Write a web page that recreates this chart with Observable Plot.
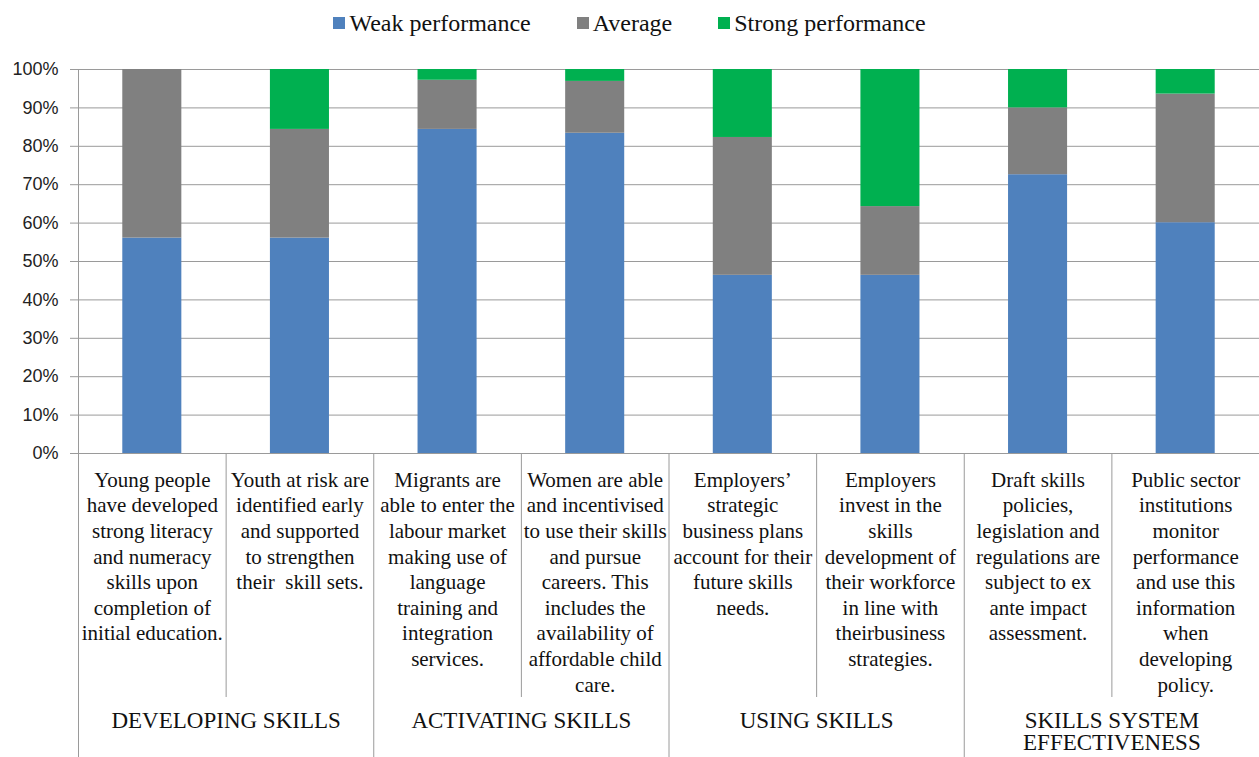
<!DOCTYPE html>
<html>
<head>
<meta charset="utf-8">
<script src="https://cdn.jsdelivr.net/npm/d3@7"></script>
<script src="https://cdn.jsdelivr.net/npm/@observablehq/plot@0.6"></script>
<style>
  html, body { margin: 0; padding: 0; background: #fff; }
  #legend { height: 46px; display: flex; justify-content: center; align-items: center; gap: 46px;
    font-family: "Liberation Serif", "DejaVu Serif", serif; font-size: 24px; color: #111; box-sizing: border-box; width: 1259px; }
  #legend .item { display: flex; align-items: center; }
  #legend .sw { width: 12px; height: 12px; margin-right: 4px; display: inline-block; }
  #chart svg { display: block; }
</style>
</head>
<body>
<div id="legend"></div>
<div id="chart"></div>
<script>
const categories = [
  "Young people\nhave developed\nstrong literacy\nand numeracy\nskills upon\ncompletion of\ninitial education.",
  "Youth at risk are\nidentified early\nand supported\nto strengthen\ntheir  skill sets.",
  "Migrants are\nable to enter the\nlabour market\nmaking use of\nlanguage\ntraining and\nintegration\nservices.",
  "Women are able\nand incentivised\nto use their skills\nand pursue\ncareers. This\nincludes the\navailability of\naffordable child\ncare.",
  "Employers’\nstrategic\nbusiness plans\naccount for their\nfuture skills\nneeds.",
  "Employers\ninvest in the\nskills\ndevelopment of\ntheir workforce\nin line with\ntheirbusiness\nstrategies.",
  "Draft skills\npolicies,\nlegislation and\nregulations are\nsubject to ex\nante impact\nassessment.",
  "Public sector\ninstitutions\nmonitor\nperformance\nand use this\ninformation\nwhen\ndeveloping\npolicy."
];
const groups = ["DEVELOPING SKILLS", "ACTIVATING SKILLS", "USING SKILLS", "SKILLS SYSTEM\nEFFECTIVENESS"];
const seriesNames = ["Weak performance", "Average", "Strong performance"];
const seriesColors = ["#4F81BD", "#808080", "#00B050"];
const weak    = [56.1, 56.1, 84.4, 83.4, 46.4, 46.4, 72.6, 60.1];
const average = [43.9, 28.3, 12.8, 13.5, 35.9, 17.9, 17.4, 33.5];
const strong  = [0.0, 15.6, 2.8, 3.1, 17.7, 35.7, 10.0, 6.4];
const yTicks = [0, 0.1, 0.2, 0.3, 0.4, 0.5, 0.6, 0.7, 0.8, 0.9, 1.0];

// legend
const legend = document.getElementById("legend");
seriesNames.forEach((s, i) => {
  const it = document.createElement("span");
  it.className = "item";
  it.innerHTML = `<span class="sw" style="background:${seriesColors[i]}"></span>${s}`;
  legend.appendChild(it);
});

// stacked table
const seriesValues = [weak, average, strong];
const rows = [];
categories.forEach((c, i) => {
  let base = 0;
  seriesValues.forEach((vals, s) => {
    const v = vals[i] / 100;
    rows.push({i, series: seriesNames[s], y1: base, y2: base + v});
    base += v;
  });
});
const catRows = categories.map((c, i) => ({i, label: c}));
const groupRows = groups.map((g, k) => ({x: 2 * k + 1, label: g}));

const W = 1259, H = 711, mT = 23, mB = 304, mL = 78, mR = 0;
const frameH = H - mT - mB;
const bandPx = (W - mL - mR) / categories.length;
const barInset = bandPx * 0.3;
const serif = "Liberation Serif, DejaVu Serif, serif";

const chart = Plot.plot({
  width: W, height: H,
  marginTop: mT, marginBottom: mB, marginLeft: mL, marginRight: mR,
  style: {fontFamily: "Liberation Sans, Arial, sans-serif", background: "#fff"},
  x: {type: "linear", domain: [0, categories.length], axis: null},
  y: {domain: [0, 1], axis: null},
  color: {domain: seriesNames, range: seriesColors},
  marks: [
    Plot.ruleY(yTicks, {y: d => d, x1: 0, x2: categories.length, stroke: "#9a9a9a", insetLeft: -8}),
    Plot.rect(rows, {x1: d => d.i, x2: d => d.i + 1, y1: "y1", y2: "y2", fill: "series", insetLeft: barInset, insetRight: barInset}),
    Plot.axisY({ticks: yTicks, tickFormat: d3.format(".0%"), tickSize: 0, tickPadding: 20, fontSize: 18, fill: "#222"}),
    Plot.ruleX([0], {stroke: "#9a9a9a", insetBottom: -mB}),
    Plot.ruleX([2, 4, 6], {stroke: "#9a9a9a", insetTop: frameH, insetBottom: -mB}),
    Plot.ruleX([1, 3, 5, 7], {stroke: "#9a9a9a", insetTop: frameH, insetBottom: -244}),
    Plot.text(catRows, {x: d => d.i + 0.5, text: "label", frameAnchor: "bottom", lineAnchor: "top", dy: 15,
      fontSize: 21, lineHeight: 1.22, fontFamily: serif, fill: "#111"}),
    Plot.text(groupRows, {x: "x", text: "label", frameAnchor: "bottom", lineAnchor: "top", dy: 258,
      fontSize: 23, lineHeight: 0.98, fontFamily: serif, fill: "#111"})
  ]
});
document.getElementById("chart").appendChild(chart);
</script>
</body>
</html>
